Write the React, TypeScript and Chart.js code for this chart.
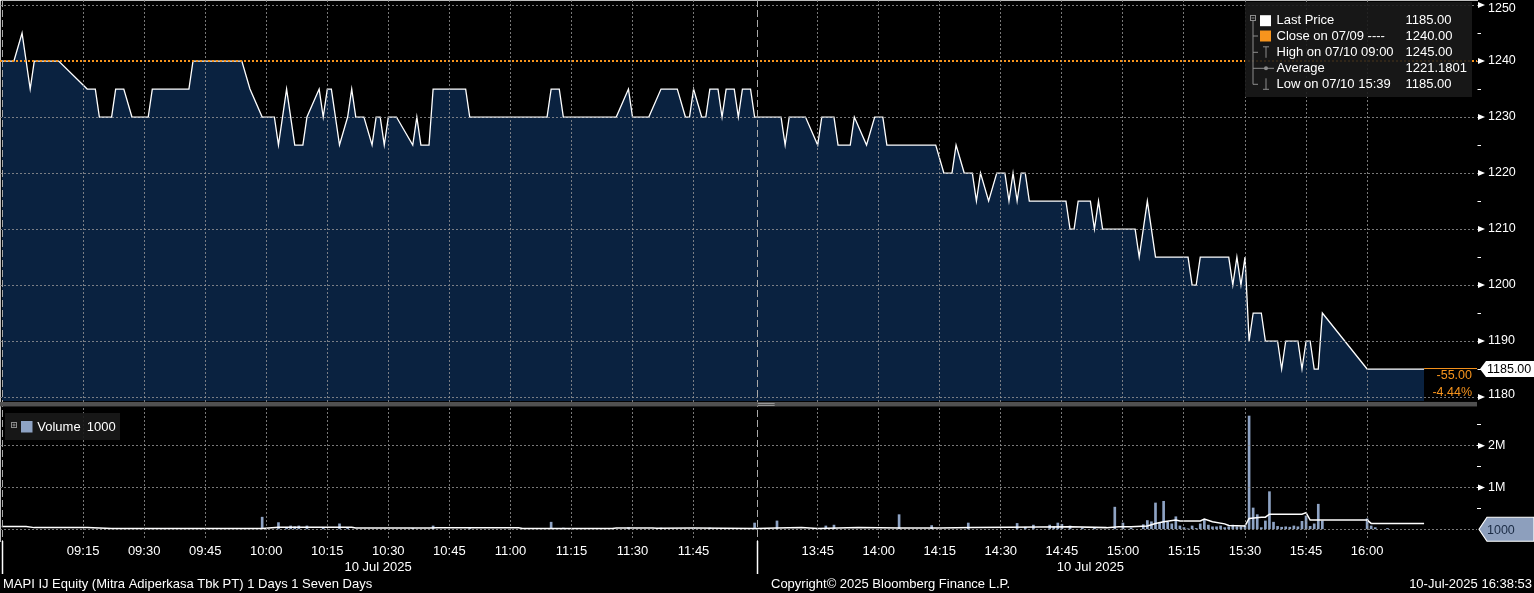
import React, { useEffect, useRef } from "react";
import { Chart, registerables } from "chart.js";

Chart.register(...registerables);

// ---------- text ----------
const TICKER_TITLE = "MAPI IJ Equity (Mitra Adiperkasa Tbk PT) 1 Days 1 Seven Days";
const COPYRIGHT = "Copyright\u00a9 2025 Bloomberg Finance L.P.";
const TIMESTAMP = "10-Jul-2025 16:38:53";
const DATE_LABEL = "10 Jul 2025";
const TODAY_SHORT = "07/10";
const PREV_DATE_SHORT = "07/09";
const AVERAGE_PRICE_TEXT = "1221.1801";
const VOLUME_LEGEND_UNIT = "1000";

// ---------- data ----------
const PREV_CLOSE = 1240;
const LAST_VOLUME = 1000;

const SESSION1_START = "08:55";
const SESSION1_END = "12:00";
const SESSION2_START = "13:30";

const X_TICK_LABELS = [
  "09:15", "09:30", "09:45", "10:00", "10:15", "10:30", "10:45", "11:00", "11:15", "11:30", "11:45",
  "13:45", "14:00", "14:15", "14:30", "14:45", "15:00", "15:15", "15:30", "15:45", "16:00",
];
const PRICE_TICKS = [1180, 1185, 1190, 1195, 1200, 1205, 1210, 1215, 1220, 1225, 1230, 1235, 1240, 1245, 1250];
const VOLUME_TICKS = [0, 500000, 1000000, 1500000, 2000000, 2500000];

const PRICE_TIMES = [
  "08:55", "08:58", "09:00", "09:02", "09:03", "09:09", "09:16", "09:18", "09:19", "09:22",
  "09:23", "09:25", "09:27", "09:31", "09:32", "09:41", "09:42", "09:54", "09:56", "09:59",
  "10:02", "10:03", "10:05", "10:07", "10:09", "10:10", "10:13", "10:14", "10:15", "10:16",
  "10:18", "10:20", "10:21", "10:22", "10:24", "10:26", "10:27", "10:28", "10:29", "10:30",
  "10:32", "10:36", "10:37", "10:38", "10:40", "10:41", "10:49", "10:50", "11:09", "11:10",
  "11:12", "11:13", "11:26", "11:29", "11:30", "11:34", "11:37", "11:41", "11:43", "11:44",
  "11:45", "11:47", "11:48", "11:49", "11:51", "11:52", "11:53", "11:55", "11:56", "11:57",
  "11:59", "12:00",
  "13:30", "13:36", "13:37", "13:38", "13:42", "13:45", "13:46", "13:49", "13:50", "13:53",
  "13:54", "13:57", "13:59", "14:01", "14:02", "14:14", "14:16", "14:18", "14:19", "14:21",
  "14:23", "14:24", "14:25", "14:27", "14:29", "14:31", "14:32", "14:33", "14:34", "14:35",
  "14:36", "14:37", "14:46", "14:47", "14:48", "14:49", "14:52", "14:53", "14:54", "14:55",
  "15:03", "15:04", "15:06", "15:08", "15:16", "15:17", "15:18", "15:19", "15:26", "15:27",
  "15:28", "15:29", "15:30", "15:31", "15:32", "15:34", "15:35", "15:38", "15:39", "15:40",
  "15:43", "15:44", "15:45", "15:46", "15:47", "15:48", "15:49", "16:00", "16:14",
];
const PRICES = [
  1240, 1240, 1245, 1235, 1240, 1240, 1235, 1235, 1230, 1230,
  1235, 1235, 1230, 1230, 1235, 1235, 1240, 1240, 1235, 1230,
  1230, 1225, 1235, 1225, 1225, 1230, 1235, 1230, 1235, 1235,
  1225, 1230, 1235, 1230, 1230, 1225, 1230, 1230, 1225, 1230,
  1230, 1225, 1230, 1225, 1225, 1235, 1235, 1230, 1230, 1235,
  1235, 1230, 1230, 1235, 1230, 1230, 1235, 1235, 1230, 1230,
  1235, 1230, 1230, 1235, 1235, 1230, 1235, 1235, 1230, 1235,
  1235, 1230,
  1230, 1230, 1225, 1230, 1230, 1225, 1230, 1230, 1225, 1225,
  1230, 1225, 1230, 1230, 1225, 1225, 1220, 1220, 1225, 1220,
  1220, 1215, 1220, 1215, 1220, 1220, 1215, 1220, 1215, 1220,
  1220, 1215, 1215, 1210, 1210, 1215, 1215, 1210, 1215, 1210,
  1210, 1205, 1215, 1205, 1205, 1200, 1200, 1205, 1205, 1200,
  1205, 1200, 1205, 1190, 1195, 1195, 1190, 1190, 1185, 1190,
  1190, 1185, 1190, 1190, 1185, 1185, 1195, 1185, 1185,
];

const VOLUME_TIMES = [
  "09:32", "09:35", "09:59", "10:03", "10:05", "10:06", "10:07", "10:08", "10:10", "10:14",
  "10:18", "10:20", "10:36", "10:41", "10:50", "11:10", "11:13", "11:29", "11:37", "11:45",
  "11:49", "11:53", "12:00", "13:35", "13:47", "13:49", "14:05", "14:13", "14:22", "14:34",
  "14:36", "14:38", "14:42", "14:43", "14:44", "14:45", "14:47", "14:50", "14:53", "14:58",
  "15:00", "15:02", "15:05", "15:06", "15:07", "15:08", "15:09", "15:10", "15:11", "15:12",
  "15:13", "15:14", "15:15", "15:16", "15:17", "15:18", "15:19", "15:20", "15:21", "15:22",
  "15:23", "15:24", "15:25", "15:26", "15:27", "15:28", "15:29", "15:30", "15:31", "15:32",
  "15:33", "15:34", "15:35", "15:36", "15:37", "15:38", "15:39", "15:40", "15:41", "15:42",
  "15:43", "15:44", "15:45", "15:46", "15:47", "15:48", "15:49", "16:00", "16:01", "16:02",
  "16:05",
];
const VOLUMES = [
  20000, 20000, 290000, 160000, 40000, 80000, 60000, 80000, 80000, 30000,
  130000, 40000, 20000, 80000, 20000, 170000, 30000, 40000, 30000, 20000,
  30000, 20000, 150000, 200000, 80000, 100000, 350000, 90000, 150000, 140000,
  50000, 100000, 100000, 60000, 150000, 120000, 80000, 30000, 40000, 530000,
  150000, 30000, 110000, 210000, 180000, 630000, 150000, 670000, 170000, 130000,
  300000, 80000, 40000, 10000, 80000, 20000, 130000, 240000, 100000, 60000,
  60000, 80000, 40000, 60000, 100000, 60000, 60000, 80000, 2710000, 510000,
  350000, 40000, 200000, 900000, 170000, 70000, 50000, 60000, 50000, 80000,
  60000, 190000, 320000, 70000, 130000, 600000, 200000, 250000, 80000, 40000,
  20000,
];

const AVG_VOLUME_TIMES = [
  "08:55", "09:01", "09:03", "09:16", "09:22", "09:59", "10:03", "10:21", "10:22", "10:40",
  "10:42", "11:02", "11:03", "11:25", "11:26", "11:35", "11:36", "11:45", "12:00", "13:30",
  "13:35", "13:41", "13:45", "13:55", "14:05", "14:15", "14:23", "14:32", "14:47", "14:56",
  "14:59", "15:02", "15:06", "15:08", "15:10", "15:13", "15:14", "15:19", "15:20", "15:22",
  "15:25", "15:26", "15:30", "15:31", "15:34", "15:35", "15:36", "15:44", "15:45", "15:46",
  "16:00", "16:01", "16:14",
];
const AVG_VOLUMES = [
  65000, 65000, 40000, 40000, 20000, 20000, 50000, 50000, 30000, 30000,
  35000, 35000, 20000, 20000, 30000, 30000, 25000, 30000, 20000, 20000,
  30000, 45000, 20000, 40000, 30000, 30000, 40000, 50000, 60000, 40000,
  60000, 60000, 80000, 140000, 180000, 220000, 200000, 200000, 245000, 180000,
  130000, 90000, 80000, 260000, 290000, 290000, 360000, 360000, 400000, 220000,
  220000, 140000, 140000,
];

// ---------- layout / style ----------
const W = 1534;
const H = 593;
const SESSION2_T = 185.5;
const X_MIN = -0.42;
const X_MAX = 362.5;
const PRICE_MIN = 1154.29;
const PRICE_MAX = 1250.9;
const PRICE_FLOOR = 1179.3;
const VOL_MIN = -280000;
const VOL_MAX = 12663000;
const FONT = '"Liberation Sans", Arial, Helvetica, sans-serif';
const ORANGE = "#f7941d";
const NAVY = "#0a2240";
const VOL_BLUE = "#8ea3c4";
const GRID = "rgba(150,150,150,0.8)";

function toT(s: string): number {
  const [h, m] = s.split(":").map(Number);
  const mins = h * 60 + m;
  const s2 = 13 * 60 + 30;
  return mins >= s2 ? SESSION2_T + (mins - s2) : mins - (8 * 60 + 55);
}

function fmt2(v: number) {
  return v.toFixed(2);
}

function priceLabel(v: number) {
  return v % 10 === 0 ? String(v) : "";
}

function volLabel(v: number) {
  return v > 0 && v % 1000000 === 0 ? `${v / 1000000}M` : "";
}

const overlayPlugin = {
  id: "overlay",
  afterDraw(chart: any) {
    const { ctx, chartArea: ca, scales } = chart;
    const xs = scales.x;
    const ys = scales.y;
    const yv = scales.yv;
    const px = (s: string) => xs.getPixelForValue(toT(s));
    const text = (str: string, x: number, y: number, color: string, size: number, align: CanvasTextAlign = "left") => {
      ctx.font = `${size}px ${FONT}`;
      ctx.fillStyle = color;
      ctx.textAlign = align;
      ctx.textBaseline = "middle";
      ctx.fillText(str, x, y);
    };
    ctx.save();

    const floorY = ys.getPixelForValue(PRICE_FLOOR);

    // session boundaries
    ctx.strokeStyle = "#a8a8a8";
    ctx.lineWidth = 1;
    ctx.setLineDash([7, 3]);
    for (const s of [SESSION1_START, SESSION2_START]) {
      const x = Math.round(px(s)) + 0.5;
      ctx.beginPath();
      ctx.moveTo(x, ca.top);
      ctx.lineTo(x, ca.bottom);
      ctx.stroke();
    }
    ctx.setLineDash([]);
    ctx.strokeStyle = "#ffffff";
    ctx.lineWidth = 1.5;
    for (const s of [SESSION1_START, SESSION2_START]) {
      const x = Math.round(px(s)) + 0.5;
      ctx.beginPath();
      ctx.moveTo(x, ca.bottom);
      ctx.lineTo(x, ca.bottom + 33);
      ctx.stroke();
    }

    // panel separator
    ctx.fillStyle = "#505050";
    ctx.fillRect(ca.left, floorY + 1, ca.right - ca.left, 4.5);
    ctx.strokeStyle = "#9a9a9a";
    ctx.lineWidth = 1;
    const hx = px(SESSION2_START);
    ctx.beginPath();
    ctx.moveTo(hx + 1, floorY + 2.5);
    ctx.lineTo(hx + 18, floorY + 2.5);
    ctx.moveTo(hx + 1, floorY + 4.5);
    ctx.lineTo(hx + 18, floorY + 4.5);
    ctx.stroke();

    // axis triangles + labels
    ctx.fillStyle = "#ffffff";
    const tri = (y: number) => {
      ctx.fillStyle = "#ffffff";
      ctx.beginPath();
      ctx.moveTo(ca.right + 1, y - 3);
      ctx.lineTo(ca.right + 8, y);
      ctx.lineTo(ca.right + 1, y + 3);
      ctx.closePath();
      ctx.fill();
    };
    ys.ticks.forEach((t: any) => {
      const lbl = priceLabel(t.value);
      if (!lbl) return;
      const y = ys.getPixelForValue(t.value);
      tri(y);
      const ly = Math.min(Math.max(y, 8.5), floorY - 6.5);
      text(lbl, ca.right + 11, ly, "#ffffff", 12.5);
    });
    yv.ticks.forEach((t: any) => {
      const lbl = volLabel(t.value);
      if (!lbl) return;
      const y = yv.getPixelForValue(t.value);
      tri(y);
      text(lbl, ca.right + 11, y, "#ffffff", 12.5);
    });

    // last price marker
    const last = PRICES[PRICES.length - 1];
    const lastX = px(PRICE_TIMES[PRICE_TIMES.length - 1]);
    const yLast = ys.getPixelForValue(last);
    ctx.strokeStyle = ORANGE;
    ctx.lineWidth = 1;
    ctx.beginPath();
    ctx.moveTo(lastX, yLast - 0.5);
    ctx.lineTo(ca.right, yLast - 0.5);
    ctx.stroke();
    const chg = last - PREV_CLOSE;
    const pct = (chg / PREV_CLOSE) * 100;
    text(fmt2(chg), ca.right - 5, yLast + 7, ORANGE, 12.5, "right");
    text(fmt2(pct) + "%", ca.right - 5, yLast + 24, ORANGE, 12.5, "right");

    ctx.fillStyle = "#ffffff";
    ctx.beginPath();
    ctx.moveTo(ca.right + 3, yLast);
    ctx.lineTo(ca.right + 9, yLast - 8);
    ctx.lineTo(W, yLast - 8);
    ctx.lineTo(W, yLast + 8);
    ctx.lineTo(ca.right + 9, yLast + 8);
    ctx.closePath();
    ctx.fill();
    text(fmt2(last), ca.right + 10, yLast + 0.5, "#000000", 12.5);

    // last volume marker
    const yVol = yv.getPixelForValue(LAST_VOLUME);
    ctx.fillStyle = "#8d9fbd";
    ctx.strokeStyle = "#ffffff";
    ctx.lineWidth = 1.2;
    ctx.beginPath();
    ctx.moveTo(ca.right + 2, yVol);
    ctx.lineTo(ca.right + 10, yVol - 12);
    ctx.lineTo(W, yVol - 12);
    ctx.lineTo(W, yVol + 12);
    ctx.lineTo(ca.right + 10, yVol + 12);
    ctx.closePath();
    ctx.fill();
    ctx.stroke();
    text(String(LAST_VOLUME), ca.right + 10, yVol + 1, "#1b2b44", 12.5);

    // price legend
    ctx.fillStyle = "rgba(26,26,26,0.9)";
    ctx.fillRect(1245, 2, 227, 95);
    const rows = [20.7, 36, 52.3, 68.3, 84.3];
    ctx.strokeStyle = "#8c8c8c";
    ctx.lineWidth = 1;
    ctx.strokeRect(1250.5, 15.5, 5, 5);
    ctx.beginPath();
    ctx.moveTo(1251.5, 18);
    ctx.lineTo(1254.5, 18);
    ctx.moveTo(1253, 20.5);
    ctx.lineTo(1253, rows[4]);
    for (let i = 1; i < 5; i++) {
      ctx.moveTo(1253, rows[i]);
      ctx.lineTo(1258, rows[i]);
    }
    ctx.moveTo(1263, rows[2] - 5.5);
    ctx.lineTo(1269, rows[2] - 5.5);
    ctx.moveTo(1266, rows[2] - 5.5);
    ctx.lineTo(1266, rows[2] + 5.5);
    ctx.moveTo(1258, rows[3]);
    ctx.lineTo(1274, rows[3]);
    ctx.moveTo(1266, rows[4] - 6);
    ctx.lineTo(1266, rows[4] + 5);
    ctx.moveTo(1263, rows[4] + 5);
    ctx.lineTo(1269, rows[4] + 5);
    ctx.stroke();
    ctx.fillStyle = "#8c8c8c";
    ctx.beginPath();
    ctx.arc(1266, rows[3], 2, 0, Math.PI * 2);
    ctx.fill();
    ctx.fillStyle = "#ffffff";
    ctx.fillRect(1260, rows[0] - 5.5, 11, 11);
    ctx.fillStyle = ORANGE;
    ctx.fillRect(1260, rows[1] - 5.5, 11, 11);

    const hi = Math.max(...PRICES);
    const lo = Math.min(...PRICES);
    const hiT = PRICE_TIMES[PRICES.indexOf(hi)];
    const loT = PRICE_TIMES[PRICES.indexOf(lo)];
    const labels = [
      ["Last Price", fmt2(last)],
      [`Close on ${PREV_DATE_SHORT} ----`, fmt2(PREV_CLOSE)],
      [`High on ${TODAY_SHORT} ${hiT}`, fmt2(hi)],
      ["Average", AVERAGE_PRICE_TEXT],
      [`Low on ${TODAY_SHORT} ${loT}`, fmt2(lo)],
    ];
    labels.forEach(([a, b], i) => {
      text(a, 1276.5, rows[i], "#ffffff", 13);
      text(b, 1405.5, rows[i], "#ffffff", 13);
    });

    // volume legend
    ctx.fillStyle = "rgba(26,26,26,0.9)";
    ctx.fillRect(5, 413, 115, 27);
    ctx.strokeStyle = "#8c8c8c";
    ctx.strokeRect(11.5, 422.5, 5, 5);
    ctx.beginPath();
    ctx.moveTo(12.5, 425);
    ctx.lineTo(15.5, 425);
    ctx.moveTo(14, 423.5);
    ctx.lineTo(14, 426.5);
    ctx.stroke();
    ctx.fillStyle = VOL_BLUE;
    ctx.fillRect(21, 421, 11.5, 11.5);
    text("Volume", 37.3, 427.3, "#ffffff", 13);
    text(VOLUME_LEGEND_UNIT, 86.7, 427.3, "#ffffff", 13);

    // date labels
    const c1 = (px(SESSION1_START) + px(SESSION1_END)) / 2;
    const c2 = (px(SESSION2_START) + lastX) / 2;
    text(DATE_LABEL, c1, 567, "#ffffff", 13, "center");
    text(DATE_LABEL, c2, 567, "#ffffff", 13, "center");

    // footer
    text(TICKER_TITLE, 3, 584.5, "#ffffff", 13);
    text(COPYRIGHT, 771, 584.5, "#ffffff", 13);
    text(TIMESTAMP, W - 2, 584.5, "#ffffff", 13, "right");

    ctx.restore();
  },
};

export default function App() {
  const ref = useRef<HTMLCanvasElement | null>(null);

  useEffect(() => {
    document.body.style.margin = "0";
    document.body.style.background = "#000";
    const canvas = ref.current;
    if (!canvas) return;

    const priceData = PRICE_TIMES.map((t, i) => ({ x: toT(t), y: PRICES[i] }));
    const volData = VOLUME_TIMES.map((t, i) => ({ x: toT(t), y: VOLUMES[i] }));
    const avgData = AVG_VOLUME_TIMES.map((t, i) => ({ x: toT(t), y: AVG_VOLUMES[i] }));

    const chart = new Chart(canvas, {
      type: "line",
      data: {
        datasets: [
          {
            type: "line",
            label: "Close",
            data: [
              { x: X_MIN, y: PREV_CLOSE },
              { x: X_MAX, y: PREV_CLOSE },
            ],
            borderColor: ORANGE,
            borderWidth: 2,
            borderDash: [2, 2],
            pointRadius: 0,
            fill: false,
            yAxisID: "y",
            order: 0,
          },
          {
            type: "line",
            label: "Last Price",
            data: priceData,
            borderColor: "#ffffff",
            borderWidth: 1.3,
            pointRadius: 0,
            tension: 0,
            fill: { value: PRICE_FLOOR },
            backgroundColor: NAVY,
            yAxisID: "y",
            order: 1,
          },
          {
            type: "line",
            label: "Volume avg",
            data: avgData,
            borderColor: "#ffffff",
            borderWidth: 1.5,
            pointRadius: 0,
            fill: false,
            yAxisID: "yv",
            order: 2,
          },
          {
            type: "bar",
            label: "Volume",
            data: volData,
            backgroundColor: VOL_BLUE,
            borderWidth: 0,
            barThickness: 2,
            yAxisID: "yv",
            order: 3,
          },
        ] as any,
      },
      options: {
        responsive: false,
        animation: false,
        devicePixelRatio: 1,
        events: [],
        layout: { padding: 0, autoPadding: false },
        plugins: { legend: { display: false }, tooltip: { enabled: false } },
        scales: {
          x: {
            type: "linear",
            min: X_MIN,
            max: X_MAX,
            offset: false,
            grid: { color: GRID, lineWidth: 1, drawTicks: false, offset: false, z: 1 },
            border: { display: true, color: "#ffffff", width: 1.5, dash: [2, 2] },
            ticks: {
              color: "#ffffff",
              font: { family: FONT, size: 13 },
              padding: 3,
              autoSkip: false,
              maxRotation: 0,
              callback: (_v: any, i: number) => X_TICK_LABELS[i],
            },
            afterBuildTicks: (s: any) => {
              s.ticks = X_TICK_LABELS.map((l) => ({ value: toT(l) }));
            },
            afterFit: (s: any) => {
              s.height = 52;
              s.paddingLeft = 0;
              s.paddingRight = 0;
            },
          },
          y: {
            type: "linear",
            position: "right",
            weight: 1,
            min: PRICE_MIN,
            max: PRICE_MAX,
            grid: {
              color: (c: any) =>
                c.tick && c.tick.value % 10 === 0 && c.tick.value !== PREV_CLOSE ? GRID : "rgba(0,0,0,0)",
              tickColor: "#ffffff",
              tickLength: 4,
              lineWidth: 1,
              z: 1,
            },
            border: { display: true, color: "#ffffff", width: 1.5, dash: [2, 2] },
            ticks: {
              display: false,
              autoSkip: false,
              callback: (v: any) => priceLabel(v),
            },
            afterBuildTicks: (s: any) => {
              s.ticks = PRICE_TICKS.map((v) => ({ value: v }));
            },
            afterFit: (s: any) => {
              s.width = 57;
              s.paddingTop = 0;
              s.paddingBottom = 0;
            },
          },
          yv: {
            type: "linear",
            position: "right",
            weight: 0,
            min: VOL_MIN,
            max: VOL_MAX,
            grid: {
              color: (c: any) =>
                c.tick && c.tick.value % 1000000 === 0 ? GRID : "rgba(0,0,0,0)",
              tickColor: (c: any) => (c.tick && c.tick.value === 0 ? "rgba(0,0,0,0)" : "#ffffff"),
              tickLength: 4,
              lineWidth: 1,
              z: 1,
            },
            border: { display: false, dash: [2, 2] },
            ticks: {
              display: false,
              autoSkip: false,
              callback: (v: any) => volLabel(v),
            },
            afterBuildTicks: (s: any) => {
              s.ticks = VOLUME_TICKS.map((v) => ({ value: v }));
            },
            afterFit: (s: any) => {
              s.width = 0;
              s.paddingTop = 0;
              s.paddingBottom = 0;
            },
          },
        },
      } as any,
      plugins: [overlayPlugin],
    });

    return () => chart.destroy();
  }, []);

  return (
    <div style={{ width: W, height: H, background: "#000", position: "relative", overflow: "hidden" }}>
      <canvas ref={ref} width={W} height={H} style={{ display: "block", width: W, height: H }} />
    </div>
  );
}
